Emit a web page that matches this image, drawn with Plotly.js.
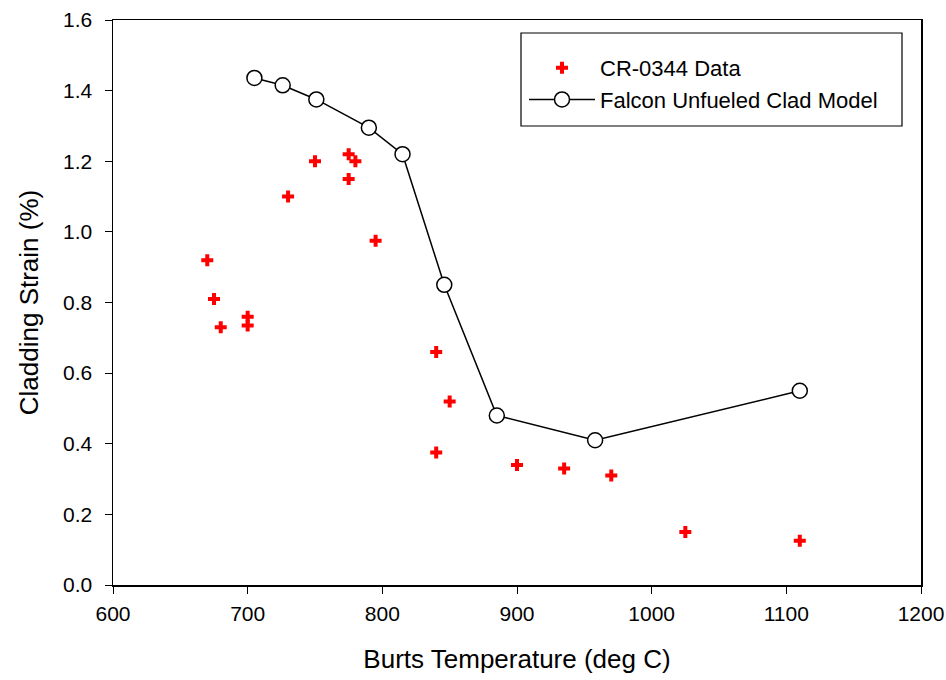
<!DOCTYPE html>
<html>
<head>
<meta charset="utf-8">
<script src="https://cdn.plot.ly/plotly-3.0.1.min.js"></script>
<style>html,body{margin:0;padding:0;background:#fff;}#chart{width:946px;height:680px;}</style>
</head>
<body>
<div id="chart"></div>
<script>
// CR-0344 data
const dataTemp   = [670, 675, 680, 700, 700, 730, 750, 775, 780, 775, 795, 840, 850, 840, 900, 935, 970, 1025, 1110];
const dataStrain = [0.92, 0.81, 0.73, 0.76, 0.735, 1.10, 1.20, 1.22, 1.20, 1.15, 0.975, 0.66, 0.52, 0.375, 0.34, 0.33, 0.31, 0.15, 0.125];
// Falcon Unfueled Clad Model
const modelTemp   = [705, 726, 751, 790, 815, 846, 885, 958, 1110];
const modelStrain = [1.436, 1.415, 1.375, 1.295, 1.22, 0.85, 0.48, 0.41, 0.55];
const xTicks = [600, 700, 800, 900, 1000, 1100, 1200];
const yTicks = [0.0, 0.2, 0.4, 0.6, 0.8, 1.0, 1.2, 1.4, 1.6];
const yTickText = yTicks.map(v => v.toFixed(1));

const font = 'Arial, "Liberation Sans", sans-serif';

const traces = [
  {
    x: dataTemp, y: dataStrain, name: 'CR-0344 Data', type: 'scatter', mode: 'markers',
    marker: {symbol: 'cross', size: 10, color: '#ff0000', line: {width: 0}}
  },
  {
    x: modelTemp, y: modelStrain, name: 'Falcon Unfueled Clad Model', type: 'scatter', mode: 'lines+markers',
    line: {color: '#000000', width: 1.5},
    marker: {symbol: 'circle', size: 15, color: '#ffffff', line: {color: '#000000', width: 1.5}}
  }
];

const layout = {
  width: 946, height: 680,
  paper_bgcolor: '#ffffff', plot_bgcolor: '#ffffff',
  margin: {l: 113, r: 25, t: 20, b: 95},
  font: {family: font, size: 21, color: '#000'},
  showlegend: true,
  legend: {
    x: (524 - 113) / 808, y: (585 - 47) / 565, xanchor: 'left', yanchor: 'top',
    bgcolor: 'rgba(0,0,0,0)', borderwidth: 0,
    font: {family: font, size: 22, color: '#000'},
    traceorder: 'normal', itemwidth: 66
  },
  shapes: [{
    type: 'rect', xref: 'paper', yref: 'paper',
    x0: (521 - 113) / 808, x1: (902 - 113) / 808,
    y0: (585 - 126) / 565, y1: (585 - 33) / 565,
    line: {color: '#000', width: 1.2}
  }],
  xaxis: {
    range: [600, 1200], tickvals: xTicks, ticktext: xTicks.map(String),
    showgrid: false, zeroline: false, showline: true, linecolor: '#000', linewidth: 1.5, mirror: true,
    ticks: 'outside', ticklen: 7, tickwidth: 1, tickcolor: '#000', ticklabelstandoff: 2,
    tickfont: {family: font, size: 21, color: '#000'},
    title: {text: 'Burts Temperature (deg C)', font: {family: font, size: 26, color: '#000'}, standoff: 26}
  },
  yaxis: {
    range: [0, 1.6], tickvals: yTicks, ticktext: yTickText,
    showgrid: false, zeroline: false, showline: true, linecolor: '#000', linewidth: 1.5, mirror: true,
    ticks: 'outside', ticklen: 7, tickwidth: 1, tickcolor: '#000', ticklabelstandoff: 8,
    tickfont: {family: font, size: 21, color: '#000'},
    title: {text: 'Cladding Strain (%)', font: {family: font, size: 26, color: '#000'}, standoff: 17}
  }
};

Plotly.newPlot('chart', traces, layout, {displayModeBar: false, staticPlot: true});
</script>
</body>
</html>
